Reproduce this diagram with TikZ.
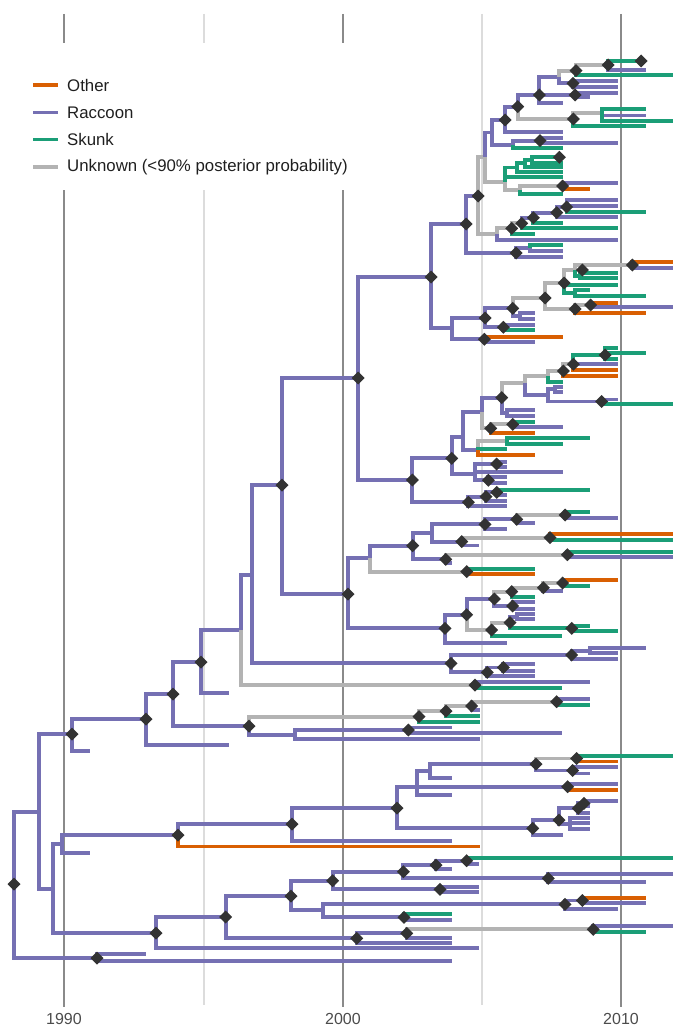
\documentclass[tikz,border=0pt]{standalone}
\usepackage{fontspec}
\setmainfont{Liberation Sans}
\definecolor{cR}{HTML}{7570B3}
\definecolor{cS}{HTML}{1B9E77}
\definecolor{cO}{HTML}{D95F02}
\definecolor{cU}{HTML}{B3B3B3}
\definecolor{cD}{HTML}{333333}
\definecolor{axd}{HTML}{8A8A8A}
\definecolor{axl}{HTML}{DCDCDC}
\tikzset{
  brn/.style={line width=3.7pt, line join=miter, line cap=butt},
  rac/.style={brn, draw=cR},
  sku/.style={brn, draw=cS},
  oth/.style={brn, draw=cO},
  unk/.style={brn, draw=cU},
  axdark/.style={draw=axd, line width=1.2pt},
  axlight/.style={draw=axl, line width=1.2pt},
  legkey/.style={line width=3.6pt},
  legtxt/.style={anchor=west, inner sep=0pt, font=\fontsize{16.8}{19}\selectfont, text=black!88},
  yrtxt/.style={anchor=center, inner sep=0pt, font=\fontsize{16}{19}\selectfont, text=black!70}
}
\newcommand\br[5]{\draw[#1] (#2,#3) |- (#4,#5);}
\newcommand\dm[2]{\fill[cD] (#1,#2) +(-6.5,0) -- +(0,-6.5) -- +(6.5,0) -- +(0,6.5) -- cycle;}
\begin{document}
\begin{tikzpicture}[x=1pt,y=-1pt]
\useasboundingbox (0,0) rectangle (688,1030);
% axis lines
\foreach \xx in {64,343} {\draw[axdark] (\xx,14) -- (\xx,43); \draw[axdark] (\xx,190) -- (\xx,1007);}
\draw[axlight] (204,14) -- (204,43); \draw[axlight] (204,190) -- (204,1005);
\draw[axlight] (482,14) -- (482,1005);
\draw[axdark] (621,14) -- (621,1007);
\node[yrtxt] (y1990) at (64,1019) {1990};
\node[yrtxt] (y2000) at (343,1019) {2000};
\node[yrtxt] (y2010) at (621,1019) {2010};
% legend
\draw[legkey, cO] (33,85) -- (58,85);
\draw[legkey, cR] (33,112.7) -- (58,112.7);
\draw[legkey, cS] (33,139.3) -- (58,139.3);
\draw[legkey, cU] (33,166.7) -- (58,166.7);
\node[legtxt] (lo) at (67,85) {Other};
\node[legtxt] (lr) at (67,112.7) {Raccoon};
\node[legtxt] (ls) at (67,139.3) {Skunk};
\node[legtxt] (lu) at (67,166.7) {Unknown (<90\% posterior probability)};
% ---------------- backbone
\br{rac}{14}{884}{39}{812}
\br{rac}{14}{884}{97}{958}
\br{rac}{97}{958}{146}{954}
\br{rac}{97}{958}{452}{961}
\br{rac}{39}{812}{72}{734}
\br{rac}{39}{812}{53}{889}
\br{rac}{72}{734}{146}{719}
\br{rac}{72}{734}{90}{751}
\br{rac}{146}{719}{173}{694}
\br{rac}{146}{719}{229}{745}
\br{rac}{173}{694}{201}{662}
\br{rac}{173}{694}{249}{726}
\br{rac}{201}{662}{241}{630}
\br{rac}{201}{662}{229}{693}
\br{rac}{241}{630}{252}{575}
\br{unk}{241}{630}{475}{685}
\br{rac}{252}{575}{282}{485}
\br{rac}{252}{575}{451}{663.3}
\br{rac}{282}{485}{358}{378}
\br{rac}{282}{485}{348}{594}
\br{rac}{358}{378}{431}{277}
\br{rac}{358}{378}{412.3}{480}
% ---------------- T clade
\br{rac}{431}{277}{466}{224}
\br{rac}{431}{277}{452}{328}
\br{rac}{466}{224}{478}{196}
\br{rac}{466}{224}{516}{253}
\br{rac}{516}{253}{530}{248}
\br{rac}{516}{253}{563}{257}
\br{sku}{530}{248}{563}{245}
\br{rac}{530}{248}{563}{251}
\br{unk}{478}{196}{485}{157}
\br{unk}{478}{196}{497.3}{234}
\br{rac}{485}{157}{492}{132.5}
\br{unk}{485}{157}{505}{182}
\br{rac}{492}{132.5}{505}{120}
\br{rac}{492}{132.5}{512.7}{145}
\br{rac}{505}{120}{517.7}{106.7}
\br{rac}{505}{120}{562.7}{131.7}
\br{rac}{512.7}{145}{540}{140.7}
\br{sku}{512.7}{145}{562.7}{148.3}
\br{rac}{540}{140.7}{562.7}{138.3}
\br{rac}{540}{140.7}{618.3}{143.3}
\br{rac}{517.7}{106.7}{539.3}{95}
\br{unk}{517.7}{106.7}{573.3}{119}
\br{unk}{573.3}{119}{601.7}{113}
\br{sku}{573.3}{119}{646}{126}
\br{sku}{601.7}{113}{646}{109}
\br{rac}{601.7}{113}{646}{115.5}
\br{sku}{601.7}{113}{673.3}{121}
\br{rac}{539.3}{95}{559.3}{77}
\br{rac}{539.3}{95}{575}{95}
\br{rac}{539.3}{95}{562.7}{103.3}
\br{unk}{559.3}{77}{576}{70.7}
\br{rac}{559.3}{77}{573}{83.3}
\br{unk}{576}{70.7}{608}{65}
\br{sku}{576}{70.7}{673.3}{75}
\br{sku}{608}{65}{646}{61}
\br{rac}{608}{65}{646}{70}
\br{rac}{573}{83.3}{618.3}{80.7}
\br{rac}{573}{83.3}{618.3}{86.7}
\br{rac}{575}{95}{618.3}{92.7}
\br{rac}{575}{95}{590}{97.3}
\br{sku}{505}{182}{516.7}{167.5}
\br{sku}{505}{182}{562.7}{177.3}
\br{unk}{505}{182}{520}{190}
\br{sku}{516.7}{167.5}{525}{163.3}
\br{sku}{516.7}{167.5}{562.7}{171.7}
\br{sku}{525}{163.3}{531.7}{160}
\br{sku}{525}{163.3}{562.7}{166.7}
\br{sku}{531.7}{160}{562.7}{157.3}
\br{sku}{531.7}{160}{562.7}{162.7}
\br{unk}{520}{190}{562.7}{186}
\br{sku}{520}{190}{562.7}{194}
\br{rac}{562.7}{186}{618.3}{183.3}
\br{oth}{562.7}{186}{590}{189}
\br{unk}{497.3}{234}{511.7}{228.3}
\br{rac}{497.3}{234}{618.3}{240}
\br{unk}{511.7}{228.3}{521.7}{223.3}
\br{sku}{511.7}{228.3}{535}{234.3}
\br{rac}{521.7}{223.3}{533.3}{217.7}
\br{sku}{521.7}{223.3}{618.3}{228.3}
\br{rac}{533.3}{217.7}{556.7}{212.7}
\br{sku}{533.3}{217.7}{562.7}{223.3}
\br{rac}{556.7}{212.7}{566.7}{207}
\br{rac}{556.7}{212.7}{618.3}{217.3}
\br{rac}{566.7}{207}{618.3}{200}
\br{rac}{566.7}{207}{618.3}{205.7}
\br{sku}{566.7}{207}{646}{211.7}
% W
\br{rac}{452}{328}{485}{318}
\br{rac}{452}{328}{484.3}{339.3}
\br{oth}{484.3}{339.3}{562.7}{336.7}
\br{rac}{484.3}{339.3}{535}{342.3}
\br{rac}{485}{318}{512.7}{308.3}
\br{rac}{485}{318}{503.3}{327.3}
\br{rac}{503.3}{327.3}{535}{325}
\br{sku}{503.3}{327.3}{535}{330}
\br{unk}{512.7}{308.3}{545}{298}
\br{rac}{512.7}{308.3}{520}{316.3}
\br{rac}{520}{316.3}{535}{313.3}
\br{rac}{520}{316.3}{535}{319.3}
\br{unk}{545}{298}{564}{283}
\br{unk}{545}{298}{575}{309}
\br{unk}{564}{283}{575}{270}
\br{sku}{564}{283}{618.3}{285}
\br{sku}{564}{283}{575}{293}
\br{sku}{575}{293}{590}{290}
\br{sku}{575}{293}{646}{296}
\br{unk}{575}{270}{632.3}{265}
\br{sku}{575}{270}{580}{276}
\br{sku}{580}{276}{618.3}{273.3}
\br{sku}{580}{276}{618.3}{278.3}
\br{oth}{632.3}{265}{673.3}{261.7}
\br{rac}{632.3}{265}{673.3}{268.3}
\br{unk}{575}{309}{590.7}{305}
\br{oth}{575}{309}{646}{313.3}
\br{oth}{590.7}{305}{618.3}{302.7}
\br{rac}{590.7}{305}{673.3}{307.3}
% ---------------- U' clade
\br{rac}{412.3}{480}{451.7}{458.3}
\br{rac}{412.3}{480}{468.3}{502.3}
\br{rac}{451.7}{458.3}{463.3}{437}
\br{rac}{451.7}{458.3}{475}{474}
\br{rac}{475}{474}{496.7}{464}
\br{rac}{475}{474}{562.7}{472.3}
\br{rac}{475}{474}{488.3}{480.3}
\br{rac}{496.7}{464}{506.7}{461.7}
\br{rac}{496.7}{464}{506.7}{466.7}
\br{rac}{488.3}{480.3}{506.7}{477.3}
\br{rac}{488.3}{480.3}{506.7}{483.3}
\br{rac}{463.3}{437}{481.7}{412}
\br{rac}{463.3}{437}{478.3}{450}
\br{unk}{478.3}{450}{506.7}{441}
\br{sku}{478.3}{450}{506.7}{449.3}
\br{oth}{478.3}{450}{535}{455}
\br{sku}{506.7}{441}{590}{438.3}
\br{sku}{506.7}{441}{562.7}{444}
\br{rac}{481.7}{412}{501.7}{397.7}
\br{unk}{481.7}{412}{490.7}{428.3}
\br{unk}{490.7}{428.3}{512.7}{424.3}
\br{oth}{490.7}{428.3}{535}{432.7}
\br{sku}{512.7}{424.3}{535}{421.7}
\br{rac}{512.7}{424.3}{562.7}{427.3}
\br{unk}{501.7}{397.7}{525}{383}
\br{rac}{501.7}{397.7}{506.7}{413}
\br{rac}{506.7}{413}{535}{410}
\br{rac}{506.7}{413}{535}{416}
\br{unk}{525}{383}{548}{376}
\br{rac}{525}{383}{548}{395}
\br{unk}{548}{376}{563.3}{371}
\br{sku}{548}{376}{562.7}{381.7}
\br{unk}{563.3}{371}{573.3}{364.3}
\br{oth}{563.3}{371}{618.3}{376}
\br{sku}{573.3}{364.3}{605}{355}
\br{rac}{573.3}{364.3}{618.3}{364.3}
\br{oth}{573.3}{364.3}{618.3}{370}
\br{sku}{605}{355}{618.3}{348}
\br{sku}{605}{355}{646}{353.3}
\br{sku}{605}{355}{618.3}{359.3}
\br{rac}{548}{395}{555}{389.3}
\br{rac}{548}{395}{601.7}{401.5}
\br{rac}{555}{389.3}{563}{387}
\br{rac}{555}{389.3}{563}{391.7}
\br{rac}{601.7}{401.5}{618.3}{399.5}
\br{sku}{601.7}{401.5}{673.3}{404}
\br{rac}{468.3}{502.3}{486}{496.7}
\br{rac}{468.3}{502.3}{506.7}{506}
\br{rac}{486}{496.7}{496.7}{492.3}
\br{rac}{486}{496.7}{506.7}{500.7}
\br{sku}{496.7}{492.3}{590}{490}
\br{rac}{496.7}{492.3}{506.7}{495}
% ---------------- (348,594) clade
\br{rac}{348}{594}{370}{558}
\br{rac}{348}{594}{445}{628.3}
\br{rac}{370}{558}{412.7}{545.7}
\br{unk}{370}{558}{466.7}{571.7}
\br{sku}{466.7}{571.7}{535}{568.7}
\br{oth}{466.7}{571.7}{535}{574.3}
\br{rac}{412.7}{545.7}{431.7}{533.3}
\br{rac}{412.7}{545.7}{445.7}{559.3}
\br{rac}{431.7}{533.3}{485}{524.3}
\br{rac}{431.7}{533.3}{461.7}{541.7}
\br{rac}{485}{524.3}{516.7}{519.3}
\br{rac}{485}{524.3}{506.7}{529}
\br{unk}{516.7}{519.3}{565}{515}
\br{rac}{516.7}{519.3}{535}{523.3}
\br{sku}{565}{515}{590}{512.3}
\br{rac}{565}{515}{618.3}{517.7}
\br{unk}{461.7}{541.7}{550}{537.7}
\br{rac}{461.7}{541.7}{479.3}{545.5}
\br{oth}{550}{537.7}{673.3}{534.3}
\br{sku}{550}{537.7}{673.3}{540.3}
\br{unk}{445.7}{559.3}{567.3}{554.7}
\br{rac}{445.7}{559.3}{451.7}{562.7}
\br{sku}{567.3}{554.7}{673.3}{551.7}
\br{rac}{567.3}{554.7}{673.3}{557.3}
\br{rac}{445}{628.3}{466.7}{614.7}
\br{rac}{445}{628.3}{506.7}{643.3}
\br{rac}{466.7}{614.7}{494.3}{599}
\br{unk}{466.7}{614.7}{491.7}{630}
\br{unk}{494.3}{599}{511.7}{591.7}
\br{rac}{494.3}{599}{512.7}{606}
\br{unk}{511.7}{591.7}{543.3}{587.7}
\br{sku}{511.7}{591.7}{535}{597}
\br{unk}{543.3}{587.7}{562.7}{583}
\br{rac}{543.3}{587.7}{562.7}{591.3}
\br{oth}{562.7}{583}{618.3}{580.3}
\br{sku}{562.7}{583}{590}{586}
\br{rac}{512.7}{606}{535}{602.3}
\br{rac}{512.7}{606}{535}{609}
\br{unk}{491.7}{630}{510}{622.7}
\br{sku}{491.7}{630}{561.7}{636}
\br{rac}{510}{622.7}{516.7}{616.8}
\br{sku}{510}{622.7}{571.7}{628.3}
\br{rac}{516.7}{616.8}{535}{614.3}
\br{rac}{516.7}{616.8}{535}{619.3}
\br{sku}{571.7}{628.3}{590}{625.7}
\br{sku}{571.7}{628.3}{618.3}{631}
% ---------------- Q bottom, P gray
\br{rac}{451}{663.3}{571.7}{655}
\br{rac}{451}{663.3}{487.3}{672.3}
\br{rac}{571.7}{655}{590}{650.8}
\br{rac}{571.7}{655}{618.3}{659}
\br{rac}{590}{650.8}{646}{648.3}
\br{rac}{590}{650.8}{618.3}{653.3}
\br{rac}{487.3}{672.3}{503.3}{667.5}
\br{rac}{487.3}{672.3}{535}{676}
\br{rac}{503.3}{667.5}{535}{664.3}
\br{rac}{503.3}{667.5}{535}{670.7}
\br{rac}{475}{685}{590}{682.3}
\br{sku}{475}{685}{562.3}{687.7}
% ---------------- N2
\br{unk}{249}{726}{419}{716.7}
\br{rac}{249}{726}{295}{734.7}
\br{rac}{295}{734.7}{408.3}{730}
\br{rac}{295}{734.7}{480}{739}
\br{rac}{408.3}{730}{451.7}{727.5}
\br{rac}{408.3}{730}{562.3}{733}
\br{unk}{419}{716.7}{446}{711}
\br{sku}{419}{716.7}{480}{721.7}
\br{unk}{446}{711}{471.7}{706}
\br{sku}{446}{711}{480}{716}
\br{unk}{471.7}{706}{556.7}{701.7}
\br{rac}{471.7}{706}{480}{710}
\br{rac}{556.7}{701.7}{590}{699}
\br{sku}{556.7}{701.7}{590}{705}
% ---------------- B clade
\br{rac}{53}{889}{62}{844}
\br{rac}{53}{889}{156}{933}
\br{rac}{62}{844}{178}{835}
\br{rac}{62}{844}{90}{853}
\br{rac}{178}{835}{292}{824}
\br{oth}{178}{835}{480}{846.5}
\br{rac}{292}{824}{397}{808}
\br{rac}{292}{824}{452}{841}
\br{rac}{397}{808}{416.7}{786.7}
\br{rac}{397}{808}{532.7}{828.3}
\br{rac}{416.7}{786.7}{430}{771}
\br{rac}{416.7}{786.7}{567.7}{786.7}
\br{rac}{416.7}{786.7}{451.7}{795}
\br{rac}{430}{771}{536}{764}
\br{rac}{430}{771}{451.7}{778.3}
\br{unk}{536}{764}{576.7}{758.5}
\br{rac}{536}{764}{572.7}{770.5}
\br{sku}{576.7}{758.5}{673.3}{756}
\br{oth}{576.7}{758.5}{618.3}{761.5}
\br{rac}{572.7}{770.5}{618.3}{767.3}
\br{rac}{572.7}{770.5}{590}{773.5}
\br{rac}{567.7}{786.7}{618.3}{784}
\br{oth}{567.7}{786.7}{618.3}{790}
\br{rac}{532.7}{828.3}{559}{820}
\br{rac}{532.7}{828.3}{562.7}{835}
\br{rac}{559}{820}{578.3}{808.3}
\br{rac}{559}{820}{570}{824}
\br{rac}{578.3}{808.3}{584}{803.3}
\br{rac}{578.3}{808.3}{590}{812.7}
\br{rac}{584}{803.3}{618.3}{801}
\br{rac}{584}{803.3}{590}{806}
\br{rac}{570}{824}{590}{818.3}
\br{rac}{570}{824}{590}{823.3}
\br{rac}{570}{824}{590}{829.3}
\br{rac}{156}{933}{225.7}{917}
\br{rac}{156}{933}{479.3}{948.3}
\br{rac}{225.7}{917}{291}{896}
\br{rac}{225.7}{917}{356.7}{938.3}
\br{rac}{356.7}{938.3}{406.7}{933.3}
\br{rac}{356.7}{938.3}{451.7}{943.3}
\br{unk}{406.7}{933.3}{593.3}{929.3}
\br{rac}{406.7}{933.3}{451.7}{937.7}
\br{rac}{593.3}{929.3}{673.3}{925.7}
\br{sku}{593.3}{929.3}{646}{931.7}
\br{rac}{291}{896}{332.7}{880.7}
\br{rac}{291}{896}{322.7}{910.3}
\br{rac}{332.7}{880.7}{403.3}{871.7}
\br{rac}{332.7}{880.7}{440}{889.3}
\br{rac}{440}{889.3}{479.3}{886.7}
\br{rac}{440}{889.3}{479.3}{892}
\br{rac}{403.3}{871.7}{436}{865}
\br{rac}{403.3}{871.7}{548.3}{878.3}
\br{rac}{548.3}{878.3}{673.3}{874.3}
\br{rac}{548.3}{878.3}{646}{881.7}
\br{rac}{436}{865}{466.7}{860.7}
\br{rac}{436}{865}{451.7}{869.3}
\br{sku}{466.7}{860.7}{673.3}{857.7}
\br{rac}{466.7}{860.7}{479.3}{863.7}
\br{rac}{322.7}{910.3}{565}{904.3}
\br{rac}{322.7}{910.3}{404}{917.3}
\br{rac}{565}{904.3}{582.3}{900.5}
\br{rac}{565}{904.3}{618.3}{909}
\br{oth}{582.3}{900.5}{646}{897.7}
\br{rac}{582.3}{900.5}{646}{903.3}
\br{sku}{404}{917.3}{451.7}{914.3}
\br{rac}{404}{917.3}{451.7}{920}
% ---------------- diamonds
\foreach \a/\b in {14/884,72/734,146/719,173/694,201/662,282/485,358/378,431/277,466/224,478/196,
 505/120,517.7/106.7,539.3/95,575/95,576/70.7,608/65,641/61,573/83.3,573.3/119,540/140.7,559.3/157.3,
 562.7/186,516/253,511.7/228.3,521.7/223.3,533.3/217.7,556.7/212.7,566.7/207,485/318,503.3/327.3,
 484.3/339.3,512.7/308.3,545/298,564/283,582.3/270,632.3/265,575/309,590.7/305,
 412.3/480,451.7/458.3,468.3/502.3,486/496.7,496.7/492.3,488.3/480.3,496.7/464,501.7/397.7,
 490.7/428.3,512.7/424.3,563.3/371,573.3/364.3,605/355,601.7/401.5,
 348/594,412.7/545.7,485/524.3,516.7/519.3,565/515,461.7/541.7,550/537.7,445.7/559.3,567.3/554.7,
 466.7/571.7,445/628.3,466.7/614.7,494.3/599,511.7/591.7,543.3/587.7,562.7/583,512.7/606,491.7/630,
 510/622.7,571.7/628.3,451/663.3,571.7/655,487.3/672.3,503.3/667.5,475/685,249/726,408.3/730,
 419/716.7,446/711,471.7/706,556.7/701.7,178/835,292/824,397/808,536/764,576.7/758.5,572.7/770.5,
 567.7/786.7,532.7/828.3,559/820,578.3/808.3,584/803.3,156/933,225.7/917,291/896,332.7/880.7,
 403.3/871.7,436/865,466.7/860.7,548.3/878.3,440/889.3,565/904.3,582.3/900.5,404/917.3,
 356.7/938.3,406.7/933.3,593.3/929.3,97/958}
 {\dm{\a}{\b}}
\end{tikzpicture}
\end{document}
